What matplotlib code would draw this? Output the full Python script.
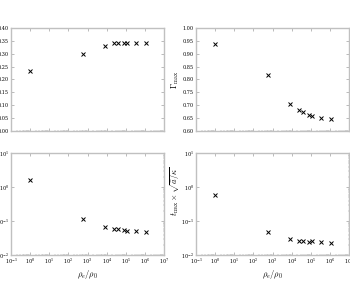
import matplotlib
matplotlib.use('Agg')
import matplotlib.pyplot as plt
import numpy as np

plt.rcParams['font.family'] = 'serif'
plt.rcParams['font.serif'] = ['DejaVu Serif']
plt.rcParams['mathtext.fontset'] = 'cm'

# density ratio rho_e / rho_0
ratio = [1.0, 6e2, 8e3, 2.3e4, 4e4, 8e4, 1.1e5, 3.5e5, 1.1e6]
# top left panel (its label is cut off in the original)
left_top = [0.232, 0.300, 0.331, 0.340, 0.341, 0.340, 0.340, 0.340, 0.340]
# Gamma_max
gamma_max = [0.937, 0.816, 0.703, 0.682, 0.673, 0.661, 0.660, 0.652, 0.647]
# bottom left panel (its label is cut off in the original)
left_bot = [1.6, 0.112, 0.066, 0.060, 0.057, 0.053, 0.052, 0.050, 0.049]
# t_max * sqrt(...)
t_max = [0.58, 0.0485, 0.0295, 0.0266, 0.026, 0.0248, 0.025, 0.0236, 0.0228]

fig = plt.figure(figsize=(3.5, 2.84), dpi=100)
W, H = 350.0, 284.0
boxes = [
    (11, 28, 164, 131),
    (196, 28, 349, 131),
    (11, 153, 164, 255),
    (196, 153, 349, 255),
]
axes = []
for x0, y0, x1, y1 in boxes:
    ax = fig.add_axes([x0 / W, 1 - y1 / H, (x1 - x0) / W, (y1 - y0) / H])
    axes.append(ax)

data = [left_top, gamma_max, left_bot, t_max]
for i, ax in enumerate(axes):
    ax.plot(ratio, data[i], 'x', color='black', ms=3.5, mew=0.7)
    ax.set_xscale('log')
    ax.set_xlim(1e-1, 1e7)
    ax.set_xticks([10.0**k for k in range(-1, 8)])
    for s in ax.spines.values():
        s.set_color('#c0c0c0')
        s.set_linewidth(1.0)
    ax.tick_params(which='both', direction='in', top=True, right=True,
                   color='#888888', labelsize=3.5, pad=1.5)
    ax.tick_params(which='major', length=2, width=0.4)
    ax.tick_params(which='minor', length=1, width=0.3)
    if i < 2:
        ax.tick_params(labelbottom=False)
    else:
        ax.set_xlabel(r'$\rho_e/\rho_0$', fontsize=6, labelpad=1)

axes[0].set_ylim(0.0, 0.40)
axes[0].set_yticks(np.arange(0, 0.41, 0.05))
axes[1].set_ylim(0.60, 1.00)
axes[1].set_yticks(np.arange(0.60, 1.01, 0.05))
axes[1].set_ylabel(r'$\Gamma_{\rm max}$', fontsize=6, labelpad=1)
for ax in axes[2:]:
    ax.set_yscale('log')
    ax.set_ylim(1e-2, 1e1)
axes[3].set_ylabel(r'$t_{\rm max}\times\sqrt{\bar{a}/\kappa}$', fontsize=6, labelpad=1)
axes[3].yaxis.set_label_coords(-0.09, 0.62)

fig.savefig('out.png', dpi=100)
